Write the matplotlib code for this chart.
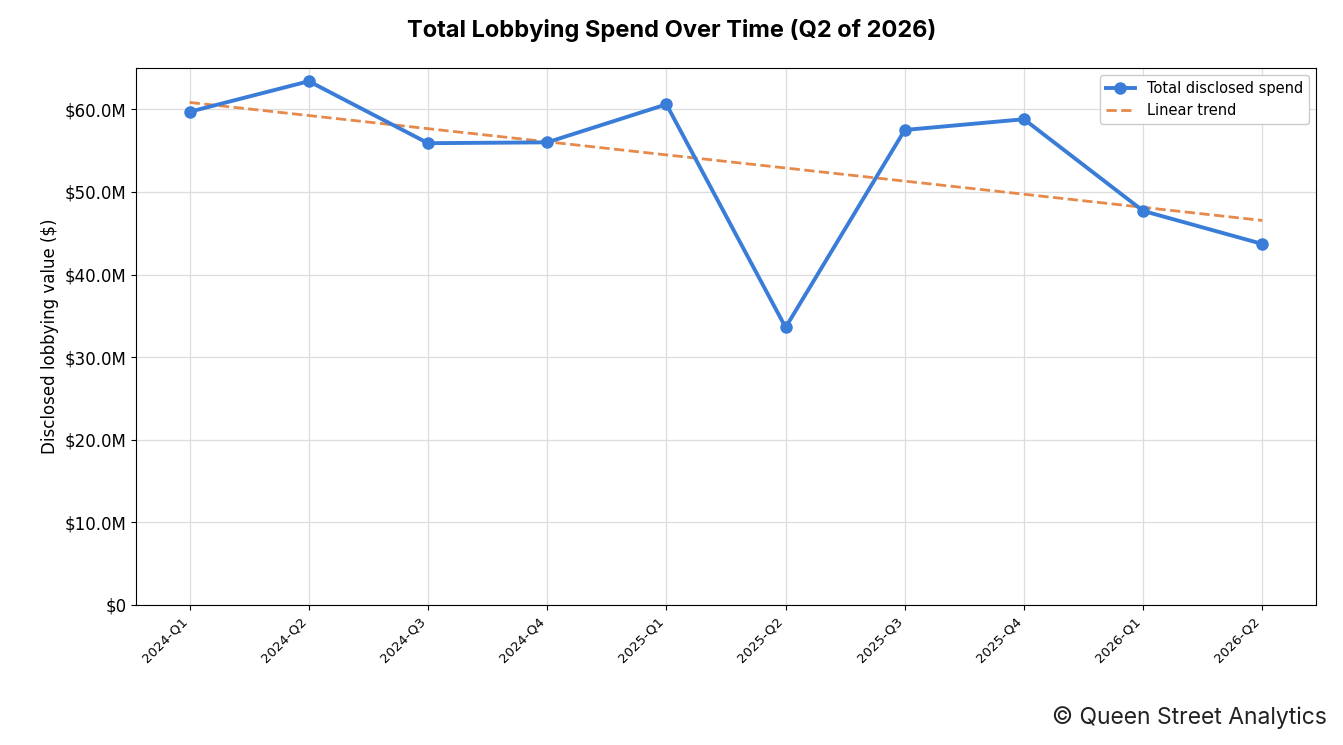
import numpy as np
import matplotlib.pyplot as plt
from matplotlib.ticker import FuncFormatter

plt.rcParams['font.family'] = ['DejaVu Sans']

quarters = ['2024-Q1', '2024-Q2', '2024-Q3', '2024-Q4', '2025-Q1',
            '2025-Q2', '2025-Q3', '2025-Q4', '2026-Q1', '2026-Q2']
spend_m = [59.7, 63.4, 55.9, 56.0, 60.6, 33.6, 57.5, 58.8, 47.7, 43.7]

x = np.arange(len(quarters))
slope, intercept = np.polyfit(x, spend_m, 1)
trend = slope * x + intercept

fig = plt.figure(figsize=(13.43, 7.45), dpi=100)
ax = fig.add_axes([136 / 1343, 140 / 745, 1180 / 1343, 537 / 745])

ax.plot(x, spend_m, color='#3a7dd8', lw=2.8, marker='o', ms=8,
        label='Total disclosed spend', zorder=3)
ax.plot(x, trend, color='#e6894a', lw=2, ls='--', label='Linear trend', zorder=2)

ax.set_xlim(-0.45, 9.45)
ax.set_ylim(0, 65)
ax.set_xticks(x)
ax.set_xticklabels(quarters, rotation=45, ha='right', fontsize=9.5)
ax.yaxis.set_major_formatter(FuncFormatter(lambda v, p: '$0' if v == 0 else f'${v:.1f}M'))
ax.tick_params(axis='y', labelsize=12)
ax.grid(True, color='#dddddd', lw=0.9)
ax.set_axisbelow(True)
ax.set_ylabel('Disclosed lobbying value ($)', fontsize=12)

ax.legend(loc='upper right', fontsize=10.5, framealpha=1, edgecolor='#cccccc')

fig.suptitle('Total Lobbying Spend Over Time (Q2 of 2026)', fontsize=17,
             fontweight='bold', family=['Inter', 'DejaVu Sans'], y=0.975)
fig.text(0.988, 0.022, '© Queen Street Analytics', ha='right', va='bottom',
         fontsize=16.5, family=['Inter', 'DejaVu Sans'], color='#222222')

fig.savefig('out.png', dpi=100)
